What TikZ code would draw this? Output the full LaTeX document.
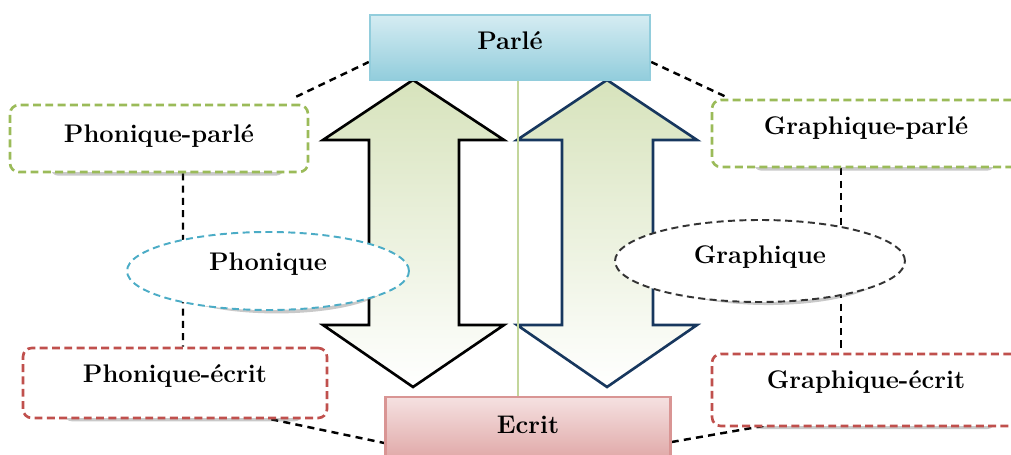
\documentclass[tikz,border=0pt]{standalone}
\usepackage{tikz}
\usetikzlibrary{calc}
\usetikzlibrary{shapes}
\usetikzlibrary{shadows}
\usetikzlibrary{backgrounds}

\definecolor{parleblue}{HTML}{92CDDC}
\definecolor{parlelight}{HTML}{D5ECF2}
\definecolor{ecritred}{HTML}{D99594}
\definecolor{ecritlight}{HTML}{F5E1E1}
\definecolor{boxgreen}{HTML}{9BBB59}
\definecolor{boxred}{HTML}{C0504D}
\definecolor{ovalblue}{HTML}{4BACC6}
\definecolor{arrowgreen}{HTML}{D7E3BC}
\definecolor{arrownavy}{HTML}{17375E}
\definecolor{linegreen}{HTML}{C3D69B}

\begin{document}
\begin{tikzpicture}[x=0.02cm,y=-0.02cm,
	every node/.style={font=\fontsize{14.5}{16}\selectfont\bfseries, text height=0.36cm},
	mainbox/.style={rectangle, inner sep=0pt, line width=1.4pt},
	sidebox/.style={rectangle, rounded corners=5pt, dashed, dash pattern=on 4.5pt off 2.5pt,
		line width=1.5pt, fill=white, inner sep=0pt,
		drop shadow={shadow xshift=6pt, shadow yshift=-8pt, shadow scale=0.78, opacity=0.3, fill=black!70}},
	oval/.style={ellipse, inner sep=0pt, dashed, dash pattern=on 4pt off 2.5pt, line width=1.1pt, fill=white,
		drop shadow={shadow xshift=6pt, shadow yshift=-8pt, shadow scale=0.8, opacity=0.3, fill=black!70}},
	link/.style={dashed, dash pattern=on 4pt off 3pt, line width=1.4pt},
	bigarrow/.style={line width=1.5pt, line join=miter, top color=arrowgreen, bottom color=white}]
	\useasboundingbox (0,0) rectangle (1011,455);
	% top and bottom
	\node[mainbox, draw=parleblue, top color=parlelight, bottom color=parleblue, minimum width=5.6cm, minimum height=1.3cm, text depth=0.26cm] (parle) at (510,47.5) {Parl\'e};
	\node[mainbox, draw=ecritred, top color=ecritlight, bottom color=ecritred!80, minimum width=5.7cm, minimum height=1.2cm, text depth=0.1cm] (ecrit) at (528,427) {Ecrit};
	% left side
	\node[sidebox, draw=boxgreen, minimum width=5.96cm, minimum height=1.34cm, text depth=0.2cm] (phparle) at (159,138.5) {Phonique-parl\'e};
	\node[oval, draw=ovalblue, minimum width=5.64cm, minimum height=1.56cm, text depth=0.38cm] (phon) at (268,271) {Phonique};
	\node[sidebox, draw=boxred, minimum width=6.08cm, minimum height=1.4cm, text depth=0.38cm] (phecrit) at (175,383) {Phonique-\'ecrit};
	% right side
	\node[sidebox, draw=boxgreen, minimum width=6.16cm, minimum height=1.34cm, text depth=0.3cm] (grparle) at (866,133.5) {Graphique-parl\'e};
	\node[oval, draw=black!80, minimum width=5.8cm, minimum height=1.64cm, text depth=0.26cm] (graph) at (760,261) {Graphique};
	\node[sidebox, draw=boxred, minimum width=6.16cm, minimum height=1.44cm, text depth=0.42cm] (grecrit) at (866,390) {Graphique-\'ecrit};
	\coordinate (mid) at (518,0);
	\begin{pgfonlayer}{background}
		\draw[bigarrow, draw=black] (413,80) -- (504,140) -- (459,140) -- (459,325) -- (504,325) -- (413,387)
			-- (323,325) -- (369,325) -- (369,140) -- (323,140) -- cycle;
		\draw[bigarrow, draw=arrownavy] (607,80) -- (697,140) -- (653,140) -- (653,325) -- (697,325) -- (607,387)
			-- (517,325) -- (562,325) -- (562,140) -- (517,140) -- cycle;
		\draw[line width=1.6pt, draw=linegreen] (parle.south -| mid) -- (ecrit.north -| mid);
		\draw 	([xshift=0.48cm]phparle.south) edge[link] ([xshift=0.16cm]phecrit.north)
		([xshift=-0.5cm]grparle.south) edge[link] ([xshift=-0.5cm]grecrit.north)
		([xshift=-0.26cm,yshift=0.14cm]phparle.north east) edge[link] ([yshift=-0.29cm]parle.west)
		([yshift=-0.29cm]parle.east) edge[link] ([xshift=0.3cm,yshift=0.04cm]grparle.north west)
		([xshift=-1.14cm]phecrit.south east) edge[link] ([yshift=-0.32cm]ecrit.west)
		([yshift=-0.3cm]ecrit.east) edge[link] ([xshift=1.7cm,yshift=0.14cm]grecrit.south west);
	\end{pgfonlayer}
\end{tikzpicture}
\end{document}
